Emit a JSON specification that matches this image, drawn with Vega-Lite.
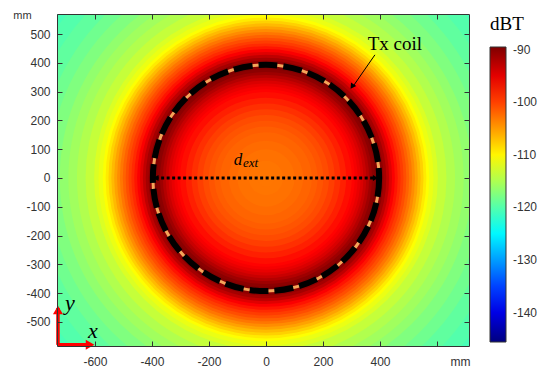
{
  "$schema": "https://vega.github.io/schema/vega-lite/v6.json",
  "width": 412,
  "height": 332,
  "autosize": {"type": "none"},
  "padding": {"left": 57, "top": 14, "right": 77, "bottom": 21},
  "background": "white",
  "config": {"view": {"stroke": null}},
  "datasets": {
    "rings": [
      {"x":0,"y":0,"r":950,"v":-120.6},{"x":0,"y":0,"r":900,"v":-120.0},{"x":0,"y":0,"r":850,"v":-119.3},
      {"x":0,"y":0,"r":800,"v":-118.4},{"x":0,"y":0,"r":760,"v":-117.5},{"x":0,"y":0,"r":720,"v":-116.5},
      {"x":0,"y":0,"r":690,"v":-115.7},{"x":0,"y":0,"r":660,"v":-114.8},{"x":0,"y":0,"r":630,"v":-113.7},
      {"x":0,"y":0,"r":600,"v":-112.5},{"x":0,"y":0,"r":585,"v":-111.6},{"x":0,"y":0,"r":570,"v":-110.6},
      {"x":0,"y":0,"r":560,"v":-109.4},{"x":0,"y":0,"r":550,"v":-108.0},{"x":0,"y":0,"r":540,"v":-106.7},
      {"x":0,"y":0,"r":530,"v":-105.4},{"x":0,"y":0,"r":520,"v":-104.2},{"x":0,"y":0,"r":510,"v":-103.0},
      {"x":0,"y":0,"r":500,"v":-101.9},{"x":0,"y":0,"r":490,"v":-100.8},{"x":0,"y":0,"r":480,"v":-99.8},
      {"x":0,"y":0,"r":470,"v":-98.8},{"x":0,"y":0,"r":460,"v":-97.6},{"x":0,"y":0,"r":450,"v":-96.3},
      {"x":0,"y":0,"r":440,"v":-94.8},{"x":0,"y":0,"r":430,"v":-93.0},{"x":0,"y":0,"r":420,"v":-91.5},
      {"x":0,"y":0,"r":410,"v":-90.3},{"x":0,"y":0,"r":400,"v":-89.6},{"x":0,"y":0,"r":390,"v":-89.6},
      {"x":0,"y":0,"r":380,"v":-90.2},{"x":0,"y":0,"r":370,"v":-91.2},{"x":0,"y":0,"r":360,"v":-92.4},
      {"x":0,"y":0,"r":350,"v":-93.5},{"x":0,"y":0,"r":340,"v":-94.5},{"x":0,"y":0,"r":330,"v":-95.3},
      {"x":0,"y":0,"r":320,"v":-96.0},{"x":0,"y":0,"r":310,"v":-96.6},{"x":0,"y":0,"r":300,"v":-97.2},
      {"x":0,"y":0,"r":280,"v":-98.2},{"x":0,"y":0,"r":260,"v":-99.1},{"x":0,"y":0,"r":240,"v":-99.9},
      {"x":0,"y":0,"r":220,"v":-100.6},{"x":0,"y":0,"r":200,"v":-101.1},{"x":0,"y":0,"r":180,"v":-101.6},
      {"x":0,"y":0,"r":160,"v":-102.0},{"x":0,"y":0,"r":130,"v":-102.4},{"x":0,"y":0,"r":100,"v":-102.7},
      {"x":0,"y":0,"r":60,"v":-102.9},{"x":0,"y":0,"r":30,"v":-103.0}
    ],
    "coil": [{"x":0,"y":0,"r":395}],
    "dline": [{"x":-387,"y":0},{"x":380,"y":0}],
    "dheads": [{"x":-386,"y":0,"dir":"left"},{"x":384,"y":0,"dir":"right"}],
    "txline": [{"x":382,"y":428},{"x":305,"y":318}],
    "txhead": [{"x":302,"y":318}],
    "redlines": [
      {"seg":"v","x":-729.6,"y":-580},{"seg":"v","x":-729.6,"y":-452},
      {"seg":"h","x":-729.6,"y":-580},{"seg":"h","x":-614,"y":-580}
    ],
    "redheads": [{"x":-729.6,"y":-459,"dir":"up"},{"x":-617,"y":-580,"dir":"right"}]
  },
  "encoding": {
    "x": {"field":"x","type":"quantitative","scale":{"domain":[-733,712],"nice":false,"zero":false},"axis":null},
    "y": {"field":"y","type":"quantitative","scale":{"domain":[-584,570],"nice":false,"zero":false},"axis":null}
  },
  "layer": [
    {
      "data": {"name":"rings"},
      "mark": {"type":"point","shape":"circle","filled":true,"opacity":1,"strokeWidth":0,"clip":true},
      "encoding": {
        "size": {"field":"r","type":"quantitative","scale":{"type":"pow","exponent":2,"domain":[0,1000],"range":[0,328100]},"legend":null},
        "color": {"field":"v","type":"quantitative",
          "scale":{"domain":[-145.6,-138.6,-124.6,-110.5,-96.5,-89.5],"range":["#00007f","#0000ff","#00ffff","#ffff00","#ff0000","#7f0000"],"interpolate":"rgb"},
          "legend":{"orient":"none","legendX":433,"legendY":1,"direction":"vertical","gradientLength":295,"gradientThickness":16,
            "values":[-90,-100,-110,-120,-130,-140],"labelExpr":"'' + datum.value",
            "title":"dBT","titleFont":"Liberation Serif","titleFontSize":19,"titleFontWeight":"normal","titleColor":"#000","titlePadding":13,"titleAnchor":"start",
            "labelFont":"Liberation Sans","labelFontSize":12,"labelColor":"#333","labelOffset":7,
            "gradientStrokeColor":"#333","gradientStrokeWidth":1,"padding":0}},
        "order": {"field":"r","type":"quantitative","sort":"descending"}
      }
    },
    {
      "data": {"name":"coil"},
      "mark": {"type":"point","shape":"circle","filled":false,"opacity":1,"stroke":"#f6a55a","strokeWidth":3},
      "encoding": {"size": {"field":"r","type":"quantitative","scale":{"type":"pow","exponent":2,"domain":[0,1000],"range":[0,328100]},"legend":null}}
    },
    {
      "data": {"name":"coil"},
      "mark": {"type":"point","shape":"circle","filled":false,"opacity":1,"stroke":"#000","strokeWidth":6,"strokeDash":[19,6]},
      "encoding": {"size": {"field":"r","type":"quantitative","scale":{"type":"pow","exponent":2,"domain":[0,1000],"range":[0,328100]},"legend":null}}
    },
    {
      "data": {"name":"dline"},
      "mark": {"type":"line","color":"#000","strokeWidth":3,"strokeDash":[3,2.5]},
      "encoding": {
        "x": {"field":"x","type":"quantitative","scale":{"domain":[-733,712],"nice":false,"zero":false},
          "axis":{"orient":"bottom","values":[-600,-400,-200,0,200,400,600],"labelExpr":"datum.value == 600 ? '' : '' + datum.value",
            "tickSize":-5,"tickColor":"#333","domain":true,"domainColor":"#333","grid":false,"zindex":1,
            "labelFont":"Liberation Sans","labelFontSize":12,"labelColor":"#333","labelPadding":15,"labelBaseline":"top",
            "title":"mm","titleFont":"Liberation Sans","titleFontSize":12,"titleFontWeight":"normal","titleColor":"#333",
            "titleX":403,"titleY":19,"titleAlign":"center","titleBaseline":"alphabetic","titleAngle":0}},
        "y": {"field":"y","type":"quantitative","scale":{"domain":[-584,570],"nice":false,"zero":false},
          "axis":{"orient":"left","values":[-500,-400,-300,-200,-100,0,100,200,300,400,500],"labelExpr":"'' + datum.value",
            "tickSize":-5,"tickColor":"#333","domain":true,"domainColor":"#333","grid":false,"zindex":1,
            "labelFont":"Liberation Sans","labelFontSize":12,"labelColor":"#333","labelPadding":12,
            "title":"mm","titleFont":"Liberation Sans","titleFontSize":11,"titleFontWeight":"normal","titleColor":"#333",
            "titleX":-35,"titleY":4,"titleAlign":"center","titleBaseline":"alphabetic","titleAngle":0}}
      }
    },
    {
      "data": {"name":"dheads"},
      "mark": {"type":"point","filled":true,"opacity":1,"color":"#000","size":35},
      "encoding": {"shape": {"field":"dir","type":"nominal","scale":{"domain":["left","right","up"],"range":["triangle-left","triangle-right","triangle-up"]},"legend":null}}
    },
    {
      "data": {"name":"txline"},
      "mark": {"type":"line","color":"#000","strokeWidth":1},
      "encoding": {
        "x": {"field":"x","type":"quantitative","scale":{"domain":[-733,712],"nice":false,"zero":false},
          "axis":{"orient":"top","values":[-600,-400,-200,0,200,400,600],"labels":false,"tickSize":-5,"tickColor":"#333","domain":true,"domainColor":"#333","grid":false,"zindex":1,"title":null}},
        "y": {"field":"y","type":"quantitative","scale":{"domain":[-584,570],"nice":false,"zero":false},
          "axis":{"orient":"right","values":[-500,-400,-300,-200,-100,0,100,200,300,400,500],"labels":false,"tickSize":-5,"tickColor":"#333","domain":true,"domainColor":"#333","grid":false,"zindex":1,"title":null}}
      }
    },
    {
      "data": {"name":"txhead"},
      "mark": {"type":"point","shape":"triangle-down","angle":33,"filled":true,"opacity":1,"color":"#000","size":40}
    },
    {
      "data": {"name":"redlines"},
      "mark": {"type":"line","color":"#ff0000","strokeWidth":3.5,"clip":false},
      "encoding": {"detail": {"field":"seg","type":"nominal"}}
    },
    {
      "data": {"name":"redheads"},
      "mark": {"type":"point","filled":true,"opacity":1,"color":"#ff0000","size":100},
      "encoding": {"shape": {"field":"dir","type":"nominal","scale":{"domain":["left","right","up"],"range":["triangle-left","triangle-right","triangle-up"]},"legend":null}}
    },
    {
      "data": {"values":[{"x":452,"y":445,"t":"Tx coil"}]},
      "mark": {"type":"text","font":"Liberation Serif","fontSize":19,"color":"#000","align":"center","baseline":"alphabetic"},
      "encoding": {"text": {"field":"t"}}
    },
    {
      "data": {"values":[{"x":-98,"y":45,"t":"d"}]},
      "mark": {"type":"text","font":"Liberation Serif","fontSize":17,"fontStyle":"italic","color":"#000","align":"center","baseline":"alphabetic"},
      "encoding": {"text": {"field":"t"}}
    },
    {
      "data": {"values":[{"x":-54,"y":39,"t":"ext"}]},
      "mark": {"type":"text","font":"Liberation Serif","fontSize":13,"fontStyle":"italic","color":"#000","align":"center","baseline":"alphabetic"},
      "encoding": {"text": {"field":"t"}}
    },
    {
      "data": {"values":[{"x":-688,"y":-459,"t":"y"},{"x":-607,"y":-556,"t":"x"}]},
      "mark": {"type":"text","font":"Liberation Serif","fontSize":22,"fontStyle":"italic","color":"#000","align":"center","baseline":"alphabetic"},
      "encoding": {"text": {"field":"t"}}
    }
  ],
  "resolve": {"axis": {"x":"independent","y":"independent"}}
}
